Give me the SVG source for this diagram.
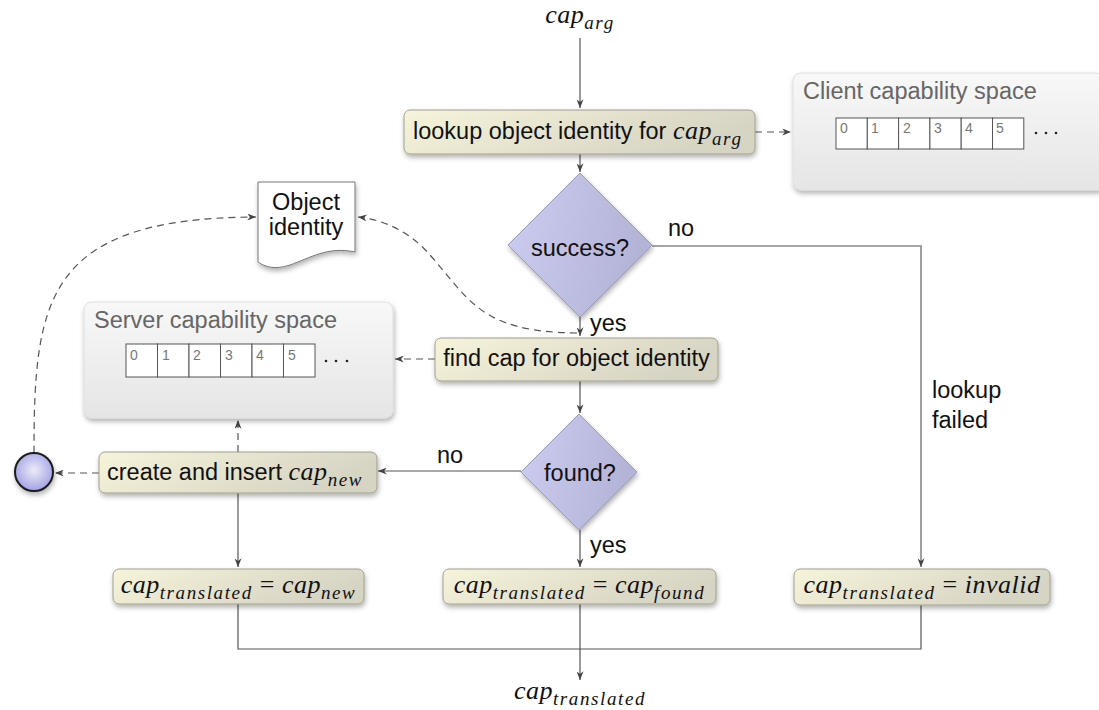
<svg xmlns="http://www.w3.org/2000/svg" width="1099" height="710" viewBox="0 0 1099 710">
<style>
.lbl{font-family:"Liberation Sans",Arial,sans-serif;font-size:23.5px;fill:#111}
.math{font-family:"Liberation Serif","Times New Roman",serif;font-style:italic;font-size:26px;letter-spacing:0.5px;fill:#111}
.sub{font-size:19px;letter-spacing:1.6px}
.up{font-style:normal}
.title{font-family:"Liberation Sans",Arial,sans-serif;font-size:23.5px;fill:#666}
.num{font-family:"Liberation Sans",Arial,sans-serif;font-size:14px;fill:#777}
.cell{fill:#fff;stroke:#555;stroke-width:1}
.task{fill:url(#gTask);stroke:#a09f8c;stroke-width:1;filter:url(#sh)}
.dec{fill:url(#gDec);stroke:#9d9db8;stroke-width:1;filter:url(#sh)}
.space{fill:url(#gSpace);stroke:#dedede;stroke-width:1;filter:url(#sh)}
.ln{fill:none;stroke:#555;stroke-width:1.2}
.ln2{fill:none;stroke:#888;stroke-width:1.6}
.dash{fill:none;stroke:#555;stroke-width:1.2;stroke-dasharray:7 5}
</style>
<defs>
<linearGradient id="gTask" x1="0" y1="0" x2="1" y2="0.3">
<stop offset="0" stop-color="#f7f4db"/><stop offset="1" stop-color="#d6d4c3"/>
</linearGradient>
<linearGradient id="gDec" x1="0" y1="0" x2="1" y2="0.2">
<stop offset="0" stop-color="#cdcdf2"/><stop offset="1" stop-color="#b3b3d8"/>
</linearGradient>
<linearGradient id="gSpace" x1="0" y1="0" x2="0" y2="1">
<stop offset="0" stop-color="#f8f8f8"/><stop offset="1" stop-color="#e5e5e5"/>
</linearGradient>
<radialGradient id="gCirc" cx="0.5" cy="0.45" r="0.55">
<stop offset="0" stop-color="#ececf6"/><stop offset="1" stop-color="#a2a2e6"/>
</radialGradient>
<filter id="sh" x="-10%" y="-10%" width="125%" height="140%">
<feDropShadow dx="1" dy="3" stdDeviation="2.5" flood-color="#000" flood-opacity="0.3"/>
</filter>
<marker id="ah" viewBox="0 0 10 8" refX="10" refY="4" markerWidth="9" markerHeight="7" orient="auto" markerUnits="userSpaceOnUse">
<path d="M0,0 L10,4 L0,8 L3,4 z" fill="#444"/>
</marker>
</defs>

<g id="connectors">
<path class="ln" d="M580,38 V108" marker-end="url(#ah)"/>
<path class="ln" d="M580,154 V172" marker-end="url(#ah)"/>
<path class="dash" d="M755,132 H791" marker-end="url(#ah)"/>
<path class="ln2" d="M652,246 H921 V567" marker-end="url(#ah)"/>
<path class="ln" d="M580,317 V336" marker-end="url(#ah)"/>
<path class="dash" d="M577,333 C480,332 470,300 430,255 C410,232 385,220 358,217" marker-end="url(#ah)"/>
<path class="dash" d="M435,359 H395" marker-end="url(#ah)"/>
<path class="ln" d="M580,381 V413" marker-end="url(#ah)"/>
<path class="ln" d="M521,471 H378" marker-end="url(#ah)"/>
<path class="dash" d="M99,473 H55" marker-end="url(#ah)"/>
<path class="dash" d="M238,452 V420" marker-end="url(#ah)"/>
<path class="dash" d="M34,453 C34,300 45,218 256,217" marker-end="url(#ah)"/>
<path class="ln" d="M580,530 V567" marker-end="url(#ah)"/>
<path class="ln" d="M238,493 V567" marker-end="url(#ah)"/>
<path class="ln" d="M238,604 V649 H921 V605"/>
<path class="ln" d="M580,604 V680" marker-end="url(#ah)"/>
<text class="lbl" x="668" y="236">no</text>
<text class="lbl" x="590" y="331">yes</text>
<text class="lbl" x="437" y="463">no</text>
<text class="lbl" x="590" y="553">yes</text>
<text class="lbl" x="932" y="398">lookup</text>
<text class="lbl" x="932" y="428">failed</text>
</g>

<g id="cap-arg">
<text class="math" x="580" y="23" text-anchor="middle">cap<tspan class="sub" dy="6">arg</tspan></text>
</g>

<g id="lookup">
<rect class="task" x="404" y="110" width="351" height="44" rx="6"/>
<text class="lbl" x="413" y="139">lookup object identity for <tspan class="math">cap</tspan><tspan class="math sub" dy="6">arg</tspan></text>
</g>

<g id="client-space">
<rect class="space" x="793" y="73" width="312" height="117" rx="8"/>
<text class="title" x="803" y="99">Client capability space</text>
<rect class="cell" x="836" y="118" width="31.3" height="31"/>
<rect class="cell" x="867.3" y="118" width="31.3" height="31"/>
<rect class="cell" x="898.6" y="118" width="31.3" height="31"/>
<rect class="cell" x="929.9" y="118" width="31.3" height="31"/>
<rect class="cell" x="961.2" y="118" width="31.3" height="31"/>
<rect class="cell" x="992.5" y="118" width="31.3" height="31"/>
<text class="num" x="840" y="133">0</text>
<text class="num" x="871" y="133">1</text>
<text class="num" x="903" y="133">2</text>
<text class="num" x="934" y="133">3</text>
<text class="num" x="965" y="133">4</text>
<text class="num" x="996" y="133">5</text>
<circle cx="1036" cy="133" r="1.3" fill="#222"/>
<circle cx="1046" cy="133" r="1.3" fill="#222"/>
<circle cx="1056" cy="133" r="1.3" fill="#222"/>
</g>

<g id="success">
<path class="dec" d="M580,173 L652,245 L580,317 L508,245 Z"/>
<text class="lbl" x="580" y="256" text-anchor="middle">success?</text>
</g>

<g id="object-identity">
<path d="M258,182 H355 V252 C328,246 310,258 290,265 C275,270 265,267 258,262 Z" fill="#fff" stroke="#777" stroke-width="1" filter="url(#sh)"/>
<text class="lbl" x="306" y="210" text-anchor="middle">Object</text>
<text class="lbl" x="306" y="235" text-anchor="middle">identity</text>
</g>

<g id="server-space">
<rect class="space" x="84" y="302" width="309" height="116" rx="8"/>
<text class="title" x="94" y="328">Server capability space</text>
<rect class="cell" x="126" y="344" width="31.5" height="33"/>
<rect class="cell" x="157.5" y="344" width="31.5" height="33"/>
<rect class="cell" x="189" y="344" width="31.5" height="33"/>
<rect class="cell" x="220.5" y="344" width="31.5" height="33"/>
<rect class="cell" x="252" y="344" width="31.5" height="33"/>
<rect class="cell" x="283.5" y="344" width="31.5" height="33"/>
<text class="num" x="130" y="360">0</text>
<text class="num" x="162" y="360">1</text>
<text class="num" x="193" y="360">2</text>
<text class="num" x="225" y="360">3</text>
<text class="num" x="256" y="360">4</text>
<text class="num" x="288" y="360">5</text>
<circle cx="326" cy="361" r="1.3" fill="#222"/>
<circle cx="336" cy="361" r="1.3" fill="#222"/>
<circle cx="347" cy="361" r="1.3" fill="#222"/>
</g>

<g id="find-cap">
<rect class="task" x="435" y="338" width="283" height="43" rx="6"/>
<text class="lbl" x="576.5" y="366" text-anchor="middle">find cap for object identity</text>
</g>

<g id="found">
<path class="dec" d="M579,414 L637,472 L579,530 L521,472 Z"/>
<text class="lbl" x="580" y="481" text-anchor="middle">found?</text>
</g>

<g id="create-insert">
<rect class="task" x="99" y="452" width="278" height="41" rx="6"/>
<text class="lbl" x="107" y="480">create and insert <tspan class="math">cap</tspan><tspan class="math sub" dy="6">new</tspan></text>
</g>

<g id="circle">
<circle cx="34" cy="472" r="19" fill="url(#gCirc)" stroke="#1a1a1a" stroke-width="2" filter="url(#sh)"/>
</g>

<g id="assign-new">
<rect class="task" x="113" y="569" width="251" height="35" rx="6"/>
<text class="math" x="238.5" y="593" text-anchor="middle">cap<tspan class="sub" dy="6">translated</tspan><tspan class="up" dy="-6"> = </tspan>cap<tspan class="sub" dy="6">new</tspan></text>
</g>

<g id="assign-found">
<rect class="task" x="443" y="569" width="273" height="35" rx="6"/>
<text class="math" x="579.5" y="593" text-anchor="middle">cap<tspan class="sub" dy="6">translated</tspan><tspan class="up" dy="-6"> = </tspan>cap<tspan class="sub" dy="6">found</tspan></text>
</g>

<g id="assign-invalid">
<rect class="task" x="794" y="569" width="256" height="36" rx="6"/>
<text class="math" x="922" y="593" text-anchor="middle">cap<tspan class="sub" dy="6">translated</tspan><tspan class="up" dy="-6"> = </tspan>invalid</text>
</g>

<g id="cap-translated">
<text class="math" x="580" y="699" text-anchor="middle">cap<tspan class="sub" dy="6">translated</tspan></text>
</g>
</svg>
